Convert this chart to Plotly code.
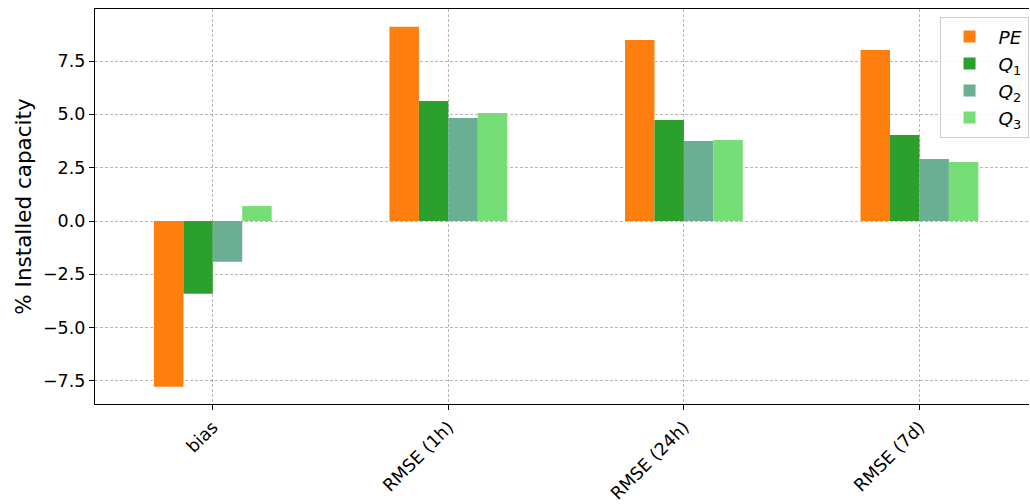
import plotly.graph_objects as go

categories = ["bias", "RMSE (1h)", "RMSE (24h)", "RMSE (7d)"]
series_names = ["<i>PE</i>", "<i>Q</i><sub>1</sub>", "<i>Q</i><sub>2</sub>", "<i>Q</i><sub>3</sub>"]
pe_values = [-7.77, 9.11, 8.49, 8.02]
q1_values = [-3.41, 5.63, 4.73, 4.03]
q2_values = [-1.91, 4.83, 3.75, 2.91]
q3_values = [0.70, 5.06, 3.80, 2.77]
colors = ["#ff7f0e", "#2ca02c", "#6aae93", "#77dd77"]

fig = go.Figure()
for name, vals, col in zip(series_names, [pe_values, q1_values, q2_values, q3_values], colors):
    fig.add_trace(go.Bar(x=categories, y=vals, name=name, marker=dict(color=col, line=dict(width=0))))

grid = dict(showgrid=True, gridcolor="rgba(0,0,0,0.28)", griddash="3px,2px", gridwidth=0.7)

fig.update_layout(
    width=1030, height=504,
    margin=dict(l=95, r=1, t=9, b=100),
    paper_bgcolor="white", plot_bgcolor="white",
    barmode="group", bargap=0.5, bargroupgap=0,
    font=dict(family="DejaVu Sans", color="black", size=17),
    legend=dict(x=0.9995, y=0.98, xanchor="right", yanchor="top",
                bordercolor="#cccccc", borderwidth=1, bgcolor="rgba(255,255,255,0.85)",
                font=dict(size=18.5), tracegroupgap=0, itemwidth=48),
    showlegend=True,
)
fig.update_xaxes(
    range=[-0.5, 3.465], showline=True, linecolor="black", linewidth=1.2, mirror=True,
    ticks="outside", ticklen=5, tickcolor="black", tickangle=-45,
    tickfont=dict(size=17.5), layer="above traces", **grid,
)
fig.update_yaxes(
    range=[-8.58, 9.94], showline=True, linecolor="black", linewidth=1.2,
    ticks="outside", ticklen=5, tickcolor="black", dtick=2.5, tick0=0, tickformat=".1f",
    zeroline=False, tickfont=dict(size=17.5), layer="above traces",
    title=dict(text="% Installed capacity", font=dict(size=21.5), standoff=5), **grid,
)
fig.write_html("out.html", config={"displayModeBar": False},
               post_script="document.body.style.margin='0';document.body.style.overflow='hidden';")
